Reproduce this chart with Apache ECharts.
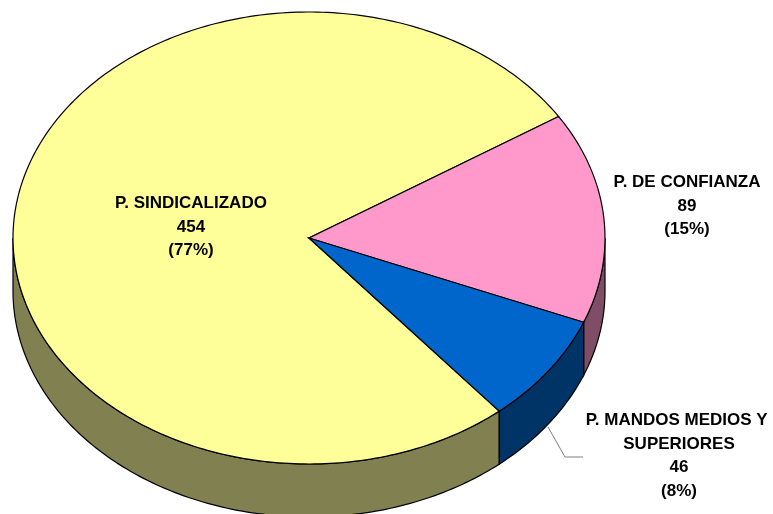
<!DOCTYPE html>
<html>
<head>
<meta charset="utf-8">
<script src="https://cdn.jsdelivr.net/npm/echarts@6/dist/echarts.min.js"></script>
<style>
html,body{margin:0;padding:0;background:#fff;}
#chart{width:773px;height:514px;}
</style>
</head>
<body>
<div id="chart"></div>
<script>
// ---- data ----
const categories = ['P. SINDICALIZADO', 'P. DE CONFIANZA', 'P. MANDOS MEDIOS Y SUPERIORES'];
const values = [454, 89, 46];

// ---- styles ----
const topColors = ['#FFFF99', '#FF99CC', '#0066CC'];
const sideColors = ['#808050', '#804D66', '#003366'];

// ---- layout ----
const CX = 309, CY = 238, RX = 296, RY = 226, DEPTH = 53;
const START_ANGLE = -50; // math degrees, slices go clockwise
const labelCenters = [[191, 227], [687, 206], [679, 456]];
const labelWidths = [260, 200, 200];
const leaderLines = [null, null, [[548, 427], [565, 457], [583, 457]]];

const total = values.reduce((a, b) => a + b, 0);

function pt(tDeg, dy) {
  const t = tDeg * Math.PI / 180;
  return [CX + RX * Math.cos(t), CY - RY * Math.sin(t) + (dy || 0)];
}
function arc(from, to, dy) {
  const pts = [];
  const n = Math.max(2, Math.ceil(Math.abs(to - from)));
  for (let k = 0; k <= n; k++) pts.push(pt(from + (to - from) * k / n, dy));
  return pts;
}

function renderItem(params, api) {
  const i = params.dataIndex;
  const v = api.value(0);
  let before = 0;
  for (let k = 0; k < i; k++) before += values[k];
  const a0 = START_ANGLE - 360 * before / total;
  const a1 = a0 - 360 * v / total;
  const children = [];
  // side faces (front half: intervals [-180,0] + 360k)
  for (let k = -3; k <= 1; k++) {
    const lo = Math.max(a1, -180 + 360 * k);
    const hi = Math.min(a0, 0 + 360 * k);
    if (hi > lo) {
      const pts = arc(lo, hi, 0).concat(arc(hi, lo, DEPTH));
      children.push({
        type: 'polygon',
        shape: { points: pts },
        style: { fill: sideColors[i], stroke: '#000', lineWidth: 1.2 }
      });
    }
  }
  // top face
  const topPts = [[CX, CY]].concat(arc(a0, a1, 0));
  children.push({
    type: 'polygon',
    shape: { points: topPts },
    style: { fill: topColors[i], stroke: '#000', lineWidth: 1.2 }
  });
  // leader line
  if (leaderLines[i]) {
    children.push({
      type: 'polyline',
      shape: { points: leaderLines[i] },
      style: { stroke: '#7f7f7f', lineWidth: 1, fill: null }
    });
  }
  // label
  const pct = Math.round(100 * v / total);
  children.push({
    type: 'text',
    x: labelCenters[i][0],
    y: labelCenters[i][1],
    style: {
      text: categories[i] + '\n' + v + '\n(' + pct + '%)',
      width: labelWidths[i],
      overflow: 'break',
      align: 'center',
      verticalAlign: 'middle',
      fontFamily: 'Liberation Sans, Arial, sans-serif',
      fontWeight: 'bold',
      fontSize: 17,
      lineHeight: 23.5,
      fill: '#000'
    },
    z2: 10
  });
  return { type: 'group', children: children };
}

const chart = echarts.init(document.getElementById('chart'), null, { renderer: 'canvas' });
chart.setOption({
  animation: false,
  backgroundColor: '#ffffff',
  series: [{
    type: 'custom',
    coordinateSystem: 'none',
    renderItem: renderItem,
    data: values.map((v, i) => ({ name: categories[i], value: [v] }))
  }]
});
</script>
</body>
</html>
